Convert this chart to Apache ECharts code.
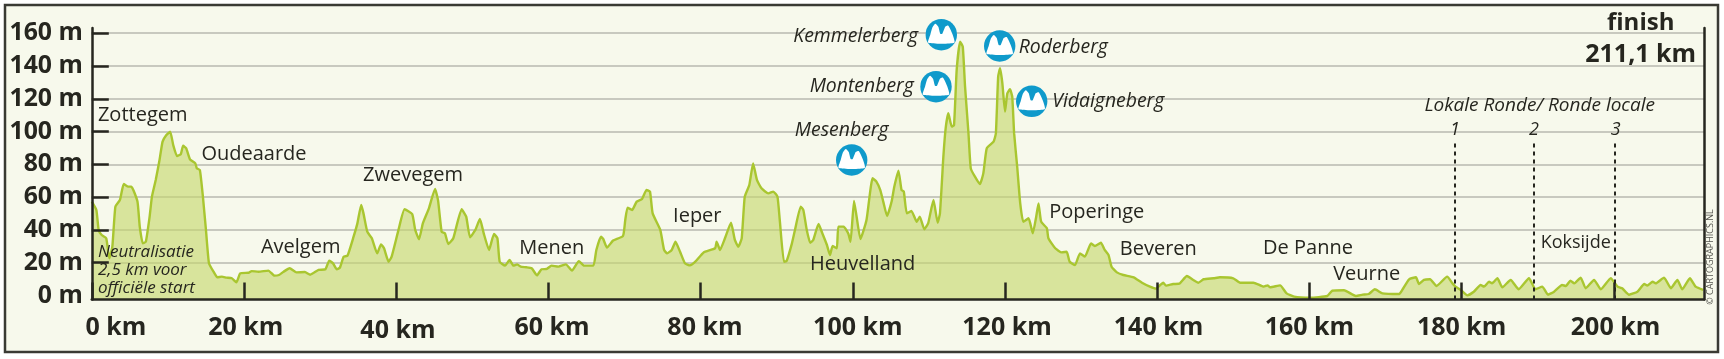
<!DOCTYPE html>
<html><head><meta charset="utf-8">
<style>html,body{margin:0;padding:0;background:#fff}#c{width:1724px;height:359px}</style>
<script src="https://cdn.jsdelivr.net/npm/echarts@6/dist/echarts.min.js"></script>
</head><body><div id="c"></div>
<script>
const kmPoints = [0,.6,.9,1.3,1.9,2.3,2.7,3.1,3.7,4.2,4.8,5.2,6,6.3,6.7,7.1,7.6,7.9,8.4,8.9,9.3,9.8,10.3,10.7,11.2,11.7,12,12.4,12.9,13.6,13.8,14.2,14.6,15,15.4,16,16.5,17.1,17.7,18.4,19,19.5,20.6,21,21.9,23.2,24,24.6,25.2,26,26.9,28,28.7,29.8,30.7,31.2,31.7,32.2,32.6,33.1,33.6,34.4,34.9,35.4,35.7,36.2,36.8,37.5,38,38.4,39,39.4,40.3,41.1,42.1,42.5,43,43.5,44.3,45.1,45.5,45.97,46.4,46.85,47.5,48.6,49.2,49.7,50.4,51,51.5,52.2,52.85,53.3,53.6,54.3,54.9,55.4,55.9,56.35,57.1,57.8,58.5,59.1,59.8,60.4,61.3,62.3,63.1,64,64.7,65.9,66.3,66.9,67.2,67.7,68.5,69.8,70.1,70.4,71,71.6,72.3,72.9,73.35,73.7,74.7,75.2,75.6,76.2,76.7,77.3,77.95,78.6,79.3,80.4,81.9,82.1,82.55,83.2,84,84.5,84.95,85.4,85.8,86.4,86.9,87.4,88,88.9,89.55,90.1,90.4,90.95,91.3,92,92.4,93.15,93.5,93.95,94.4,94.8,95.5,96,96.6,97,97.35,97.9,98.1,98.8,99.4,99.7,100.16,100.5,101,101.8,102.6,103.1,103.6,104,104.5,105.1,105.45,106,106.4,106.7,107.1,107.7,108.4,108.8,109.4,109.9,110.6,111.15,111.45,111.9,112.2,112.55,113,113.3,113.65,114.1,114.45,114.75,115.2,115.5,116.05,116.7,117.15,117.6,118.5,118.8,119.1,119.35,119.65,120,120.3,120.65,120.95,121.2,121.6,122,122.4,123.1,123.65,124.1,124.4,124.75,125.5,125.7,126.6,127.45,128.1,128.5,129.2,129.85,130.5,131.3,131.8,132.6,133.1,133.6,134,134.7,135.55,136.9,138,139.05,139.85,140.4,140.8,141.15,142.1,142.9,143.9,144.75,145.4,146.1,147.4,148.25,150,150.9,152.65,154,154.5,154.85,156.15,157,158,160.1,162.35,163,164.55,166.1,167,167.8,168.6,169.6,171.8,172.2,173.1,174,174.4,175.05,175.85,176.7,178.1,178.8,179.2,179.9,180.75,181.6,182.5,182.95,183.6,184,184.7,185.35,186.45,187.5,188.85,189.7,190.6,191.35,192.15,193.2,193.7,194.3,194.8,195.65,196.3,197.4,198.3,199.6,200.5,201.1,202,203.1,204,204.4,205.1,205.5,206.6,207.5,208.35,209,210,210.75,211.75];
const elevation = [57.3,52.2,40,36.9,34.9,22.7,29.8,54.2,58.3,68,66.4,66.4,57.3,42,31.8,32.8,48.1,60.3,70.5,82.7,93.9,97.9,100,91.8,85.1,86.3,91.4,89.8,83.1,80.6,77.6,76.6,60.3,40,19.6,14.5,11.1,11.5,10.9,10.5,8,13.5,13.9,14.9,14.5,15.2,12.1,12.5,14.5,16.6,14.1,14.3,12.7,15.6,16,21.3,19.6,16,17,23.7,24.3,35.9,44,55.2,50.1,38.9,34.9,25.7,31.2,28.8,20.6,23.7,40,52.6,49.7,40,34.3,44,53.2,65,58,38.9,38,31.4,34.9,52.6,48.1,35.5,40,46.7,37.9,27.8,37.5,34.9,20.6,18.2,21.7,18.2,19,17.6,17.2,16.6,12.3,16,16.2,18.2,17.6,19,15.2,21,18.2,18.2,27.8,35.9,34.5,29.2,33.5,36.3,46.1,53.6,52.2,57.3,58.9,64.4,63.4,50.1,40,27.8,25.7,27.8,32.8,26.7,19.6,18.4,20.6,26.3,28.8,32.8,27.8,34.9,44.4,33.9,29.8,34.9,60.3,67.4,80.6,70.5,65.4,62.3,63.4,60.3,46.1,20.6,21,31.8,40,54.2,52.2,40,32.2,33.9,43.6,37.9,30.8,24.7,30.2,28.8,42,42,37.9,32.8,57.7,48.1,34.5,46.1,71.5,69.5,64.4,57.3,48.5,57.3,66.4,76.2,64.4,63.4,50.1,51.6,45,48.1,40.4,44,58.3,44.4,50.1,84.7,102,111.2,103,104,137.6,154.9,151.8,127.4,98.9,77.6,72.5,68,74.5,89.8,93.9,99,133.5,138.6,129.5,112.2,123.3,125.8,121.3,98.9,78.6,56.2,45,47.1,37.9,48.1,56.2,45,41,34.9,28.8,26.3,26.7,20.6,18.6,25.7,23.7,31.8,30.2,32.2,27.8,24.7,17.6,14.1,12.5,11.1,7.8,5.4,4.2,6.4,7.8,6,7,7.2,11.9,9.5,7.8,9.9,10.5,11.1,10.5,7.8,7.8,5.4,6.2,5,6.2,1.3,-.7,-1.3,-.3,2.9,3.2,-.3,.5,.9,3.8,1.3,.9,3.4,9.9,11.1,7,9.5,9.9,5.8,11.5,7.4,5.4,3.4,.1,2.3,6.4,5.4,8.4,7.4,10.5,5,9.5,3.8,10.5,3.8,5.4,.5,2.3,6.4,5.8,9,7.4,10.9,4.4,9.5,3.8,10.5,5.4,4.4,.5,2.3,7,6,8.4,7.4,10.9,4.4,9.5,3.8,10.5,5.4,3.4];
const yTickValues = [20,40,60,80,100,120,140,160];
const yLabelValues = [0,20,40,60,80,100,120,140,160];
const lapKm = [179.1,189.5,200.1];
const lapLabels = ['1','2','3'];
const townNames = ['Zottegem','Oudeaarde','Zwevegem','Avelgem','Menen','Ieper','Heuvelland','Poperinge','Beveren','De Panne','Veurne','Koksijde'];
const climbNames = ['Kemmelerberg','Montenberg','Mesenberg','Roderberg','Vidaigneberg'];
const neutralNote = ['Neutralisatie','2,5 km voor','officiële start'];
const finishText = ['finish','211,1 km'];

// page layout of the annotations (separate from the data above)
const townPos = [[142.7,115],[254,154.3],[413,175.7],[300.7,247.3],[551.7,248.3],[697.3,216],[862.7,264],[1096.7,212.7],[1158.3,249.3],[1308,248.3],[1366.7,274],[1575.7,243.3]];
const townSize = [20,20,20,20,20,20,20,20,20,20,20,18];
const climbLabelPos = [[855.7,36],[861.7,86.7],[841.7,130.7],[1063.3,47.3],[1108.3,101.7]];
const climbIconPos = [[941.3,34.7],[936,86.7],[851.7,160],[999.7,46],[1031.7,101.3]];
const lapLabelX = [1455,1534,1615.7];
const noteY = [252.3,270,288];
const xNudge = {0:24,20:1.7,40:1.7,60:3.7,80:4.3,100:5,120:2,140:1.3,160:0,180:0,200:1.7};

const INK = '#26261f', FONT = '"Open Sans"';
const txt = (t,x,y,o={}) => ({type:'text',z:10,style:{text:t,x,y,fill:INK,font:`${o.w||'normal'} ${o.s||20}px ${FONT}`,align:o.a||'center',verticalAlign:'middle'}});
const itx = (t,x,y,s,a) => ({type:'text',z:10,style:{text:t,x,y,fill:INK,font:`italic normal ${s}px ${FONT}`,align:a||'center',verticalAlign:'middle'}});
const graphics = [
 {type:'rect',z:-10,shape:{x:5,y:5,width:1713,height:347},style:{fill:'#f7f9ec',stroke:'#3a3a34',lineWidth:2.5}}
];
townNames.forEach((n,i)=>graphics.push(txt(n,townPos[i][0],townPos[i][1],{s:townSize[i]})));
climbNames.forEach((n,i)=>graphics.push(itx(n,climbLabelPos[i][0],climbLabelPos[i][1],19.4)));
neutralNote.forEach((n,i)=>graphics.push(itx(n,98,noteY[i],17,'left')));
graphics.push(itx('Lokale Ronde/ Ronde locale',1539.7,105.7,19));
lapLabels.forEach((n,i)=>graphics.push(itx(n,lapLabelX[i],130,18)));
graphics.push(txt(finishText[0],1640.7,23.3,{w:'bold',s:24}));
graphics.push(txt(finishText[1],1640.7,55,{w:'bold',s:25}));
graphics.push({type:'text',z:10,x:1710,y:257,rotation:Math.PI/2,style:{text:'© CARTOGRAPHICS.NL',fill:'#55554f',font:`normal 9px ${FONT}`,align:'center',verticalAlign:'middle'}});
climbIconPos.forEach(p=>{
  graphics.push({type:'circle',z:9,shape:{cx:p[0],cy:p[1],r:15.7},style:{fill:'#0f9acb'}});
  graphics.push({type:'polygon',z:10,x:p[0],y:p[1],shape:{smooth:0.2,points:[[-13,8],[-11,0],[-9,-7],[-6,-11],[-3,-8],[-1,-1],[1,-1],[4,-8],[7,-9],[11,-1],[13,8]]},style:{fill:'#fff'}});
});

const yMin = -2.44, yMax = 163.2;
const chart = echarts.init(document.getElementById('c'),null,{renderer:'canvas'});
chart.setOption({
  animation:false,
  backgroundColor:'#ffffff',
  graphic:graphics,
  grid:{left:91.8,top:28,width:1612.2,height:271.5,containLabel:false},
  xAxis:{type:'value',min:0,max:211.85,interval:20,z:8,
    axisLine:{onZero:false,lineStyle:{color:INK,width:2.5}},
    axisTick:{show:true,inside:true,length:17,lineStyle:{color:INK,width:2.5}},
    splitLine:{show:false},
    axisLabel:{margin:16,showMaxLabel:false,color:INK,
      formatter:v=>`{a${v}|${v} km}`,
      rich:Object.fromEntries(Object.entries(xNudge).map(([k,d])=>[`a${k}`,{fontFamily:FONT,fontWeight:'bold',fontSize:25,color:INK,padding:[k==='40'?3:0,0,0,d*2]}]))}},
  yAxis:[{type:'value',position:'left',min:yMin,max:yMax,z:0,
    axisLine:{show:false,onZero:false},
    axisTick:{show:false,customValues:yTickValues},
    axisLabel:{show:false},
    splitLine:{show:true,lineStyle:{color:'#b8b8b0',width:1.5}}},
   {type:'value',position:'left',min:yMin,max:yMax,z:8,
    axisLine:{show:true,onZero:false,lineStyle:{color:INK,width:2.5}},
    axisTick:{show:true,inside:true,length:17,customValues:yTickValues,lineStyle:{color:INK,width:2.5}},
    splitLine:{show:false},
    axisLabel:{margin:9,color:INK,fontFamily:FONT,fontWeight:'bold',fontSize:24.8,customValues:yLabelValues,padding:[0,0,6,0],formatter:v=>`${v} m`}},
   {type:'value',position:'right',min:yMin,max:yMax,z:8,
    axisLine:{show:true,onZero:false,lineStyle:{color:INK,width:2.5}},
    axisTick:{show:false},axisLabel:{show:false},splitLine:{show:false}}],
  series:[{type:'line',name:'Elevation',yAxisIndex:0,data:kmPoints.map((k,i)=>[k,elevation[i]]),
    showSymbol:false,smooth:0.15,lineStyle:{color:'#a9c630',width:2.4},
    areaStyle:{origin:'start',color:'#c5d76a',opacity:.62},z:3,
    markLine:{silent:true,symbol:'none',label:{show:false},
      lineStyle:{color:INK,type:[4,4],width:2},
      data:lapKm.map(k=>[{coord:[k,yMin]},{coord:[k,94]}])}}]
});
</script></body></html>
